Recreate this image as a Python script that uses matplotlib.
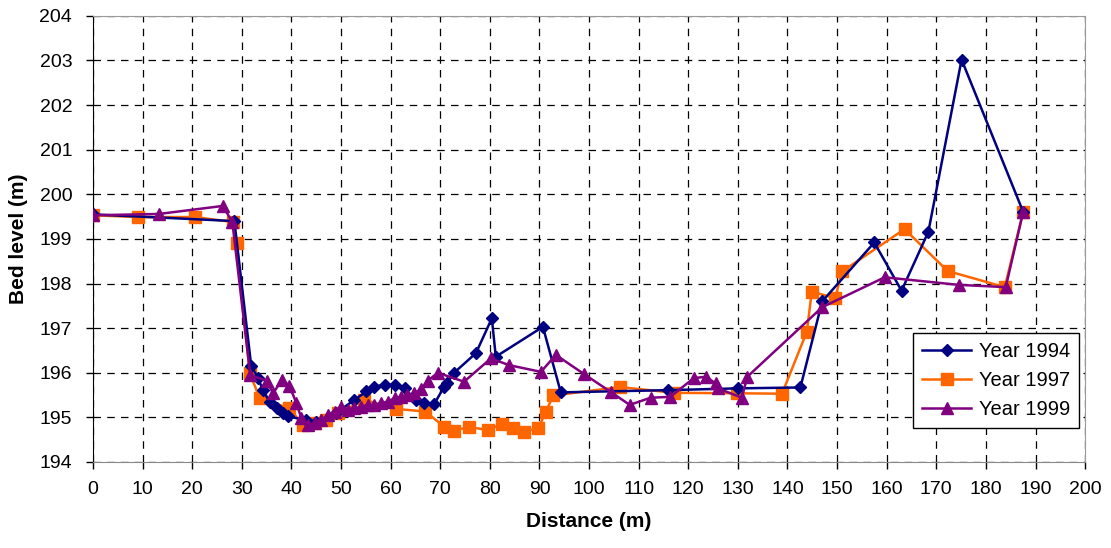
import matplotlib
matplotlib.use("Agg")
import matplotlib.pyplot as plt

plt.rcParams['font.family'] = ['Liberation Sans', 'DejaVu Sans']

x1994 = [0, 28.5, 31.9, 33.3, 34.2, 35.6, 37.0, 38.3, 39.3, 43.0, 45.0, 49.0, 52.7, 55.1, 56.7,
         58.8, 60.8, 62.8, 65.1, 66.8, 68.8, 70.8, 71.4, 72.8, 77.2, 80.4, 81.2, 90.7, 94.3,
         116.0, 130.0, 142.6, 147.0, 157.5, 163.0, 168.4, 175.1, 187.5]
y1994 = [199.55, 199.4, 196.15, 195.88, 195.62, 195.35, 195.2, 195.09, 195.02, 194.94, 194.9, 195.1, 195.39, 195.58, 195.69,
         195.73, 195.73, 195.65, 195.39, 195.32, 195.3, 195.69, 195.77, 196.0, 196.44, 197.22, 196.36, 197.03, 195.56,
         195.61, 195.65, 195.67, 197.6, 198.92, 197.84, 199.16, 203.02, 199.61]

x1997 = [0, 9.1, 20.5, 28.2, 29.0, 31.6, 33.6, 39.6, 42.3, 44.7, 47.0, 49.4, 54.7, 61.1, 67.0,
         70.8, 72.7, 75.7, 79.7, 82.4, 84.7, 86.9, 89.8, 91.3, 92.8, 106.2, 117.1, 129.8, 138.9,
         143.9, 144.9, 149.6, 151.0, 163.6, 172.3, 183.8, 187.5]
y1997 = [199.53, 199.49, 199.49, 199.38, 198.9, 195.99, 195.43, 195.2, 194.83, 194.88, 194.94, 195.09, 195.39, 195.19, 195.13,
         194.79, 194.7, 194.78, 194.72, 194.85, 194.76, 194.68, 194.76, 195.13, 195.49, 195.68, 195.55, 195.54, 195.53,
         196.92, 197.82, 197.67, 198.27, 199.22, 198.28, 197.92, 199.6]

x1999 = [0, 13.3, 26.2, 28.1, 31.7, 35.0, 36.3, 38.1, 39.6, 41.0, 42.0, 43.3, 44.7, 46.0, 47.4,
         48.7, 50.0, 51.4, 52.7, 54.1, 55.4, 56.7, 58.1, 59.4, 60.8, 62.1, 63.4, 64.8, 66.1,
         67.5, 69.5, 74.8, 80.2, 83.9, 90.3, 93.3, 99.0, 104.5, 108.2, 112.4, 116.4, 121.1,
         123.6, 125.5, 126.0, 130.8, 131.9, 147.0, 159.6, 174.5, 184.0, 187.5]
y1999 = [199.53, 199.56, 199.74, 199.37, 195.95, 195.82, 195.54, 195.84, 195.71, 195.32, 194.98, 194.83, 194.87, 194.94, 195.05,
         195.13, 195.24, 195.17, 195.2, 195.24, 195.28, 195.28, 195.32, 195.35, 195.43, 195.46, 195.5, 195.54, 195.63,
         195.82, 196.0, 195.8, 196.32, 196.17, 196.02, 196.4, 195.97, 195.56, 195.28, 195.44, 195.46, 195.88,
         195.91, 195.76, 195.65, 195.44, 195.91, 197.47, 198.14, 197.97, 197.92, 199.6]

series_labels = ["Year 1994", "Year 1997", "Year 1999"]
x_ticks = list(range(0, 201, 10))
y_ticks = list(range(194, 205))

fig = plt.figure(figsize=(11.11, 5.48), dpi=100)
ax = fig.add_axes([0.0837, 0.157, 0.893, 0.814])

ax.plot(x1994, y1994, color='#000080', marker='D', markersize=6.5, lw=1.8, label=series_labels[0], zorder=5)
ax.plot(x1997, y1997, color='#FF6600', marker='s', markersize=8.5, lw=1.8, label=series_labels[1], zorder=4)
ax.plot(x1999, y1999, color='#800080', marker='^', markersize=8.5, lw=1.8, label=series_labels[2], zorder=6)

ax.set_xlim(0, 200)
ax.set_ylim(194, 204)
ax.set_xticks(x_ticks)
ax.set_yticks(y_ticks)
ax.grid(True, color='black', linestyle=(0, (6, 5)), linewidth=0.9)
ax.tick_params(direction='out', labelsize=14, length=5, width=1)
ax.tick_params(axis='x', pad=9)
ax.tick_params(axis='y', pad=10)
for s in ['top', 'right']:
    ax.spines[s].set_color('#999999')
ax.spines['left'].set_color('black')
ax.spines['bottom'].set_color('#888888')

ax.set_xlabel('Distance (m)', fontsize=15, fontweight='bold', labelpad=10)
ax.set_ylabel('Bed level (m)', fontsize=15, fontweight='bold', labelpad=8)

leg = ax.legend(loc='lower right', bbox_to_anchor=(0.994, 0.076), fontsize=14.5,
                frameon=True, fancybox=False, edgecolor='black', framealpha=1,
                handlelength=2.4, handletextpad=0.4, borderpad=0.45, labelspacing=0.5,
                borderaxespad=0)
leg.get_frame().set_linewidth(1)

fig.savefig('out.png', dpi=100)
